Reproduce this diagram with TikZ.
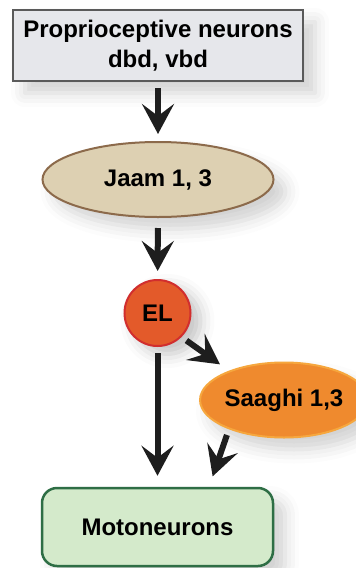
\documentclass[tikz,border=0pt]{standalone}
\usepackage{fontspec}
\setmainfont{Liberation Sans}
\usetikzlibrary{arrows.meta,shapes.geometric,shadows.blur}
\definecolor{boxfill}{RGB}{230,231,235}
\definecolor{boxdraw}{RGB}{90,90,90}
\definecolor{jaamfill}{RGB}{221,208,178}
\definecolor{jaamdraw}{RGB}{140,106,75}
\definecolor{elfill}{RGB}{227,90,42}
\definecolor{eldraw}{RGB}{209,46,46}
\definecolor{safill}{RGB}{239,138,46}
\definecolor{sadraw}{RGB}{246,167,62}
\definecolor{motofill}{RGB}{212,234,203}
\definecolor{motodraw}{RGB}{46,110,69}
\definecolor{arrowcol}{RGB}{30,30,30}
\tikzset{
  lbl/.style={font=\fontsize{24}{30}\selectfont\bfseries, text=black, inner sep=0pt, align=center},
  softshadow/.style={blur shadow={shadow xshift=12pt, shadow yshift=-12pt, shadow blur radius=14pt, shadow opacity=18}},
  arr/.style={draw=arrowcol, line width=6pt, -{Stealth[length=30pt,width=32pt,inset=12pt]}},
}
\begin{document}
\begin{tikzpicture}[x=1pt,y=-1pt]
\useasboundingbox (0,0) rectangle (356,568);
\node[lbl, rectangle, draw=boxdraw, fill=boxfill, line width=2.5pt, minimum width=290pt, minimum height=71pt, softshadow] (prop) at (158,45.5) {Proprioceptive neurons\\dbd, vbd};
\node[lbl, ellipse, draw=jaamdraw, fill=jaamfill, line width=2pt, minimum width=231pt, minimum height=75pt, softshadow] (jaam) at (158,179.5) {Jaam 1, 3};
\node[lbl, circle, draw=eldraw, fill=elfill, line width=2pt, minimum size=66pt, blur shadow={shadow xshift=10pt, shadow yshift=-8pt, shadow blur radius=14pt, shadow opacity=24}] (el) at (157.5,313) {EL};
\node[lbl, ellipse, draw=sadraw, fill=safill, line width=2pt, minimum width=142pt, minimum height=75pt, blur shadow={shadow xshift=10pt, shadow yshift=-12pt, shadow blur radius=14pt, shadow opacity=18}] (saaghi) at (284,400) {Saaghi 1,3};
\node[lbl, rectangle, rounded corners=15pt, draw=motodraw, fill=motofill, line width=2.5pt, minimum width=231pt, minimum height=78pt, softshadow] (moto) at (157.5,527) {Motoneurons};
\draw[arr, shorten <=6pt, shorten >=7pt] (prop) -- (jaam);
\draw[arr, shorten <=10pt, shorten >=8pt] (jaam) -- (el);
\draw[arr, shorten <=6pt, shorten >=11pt] (el.-45) -- (saaghi.152);
\draw[arr, shorten <=6pt, shorten >=11pt] (el) -- (moto);
\draw[arr, shorten <=6pt, shorten >=11pt] (saaghi.208.5) -- (moto.38.8);
\end{tikzpicture}
\end{document}
